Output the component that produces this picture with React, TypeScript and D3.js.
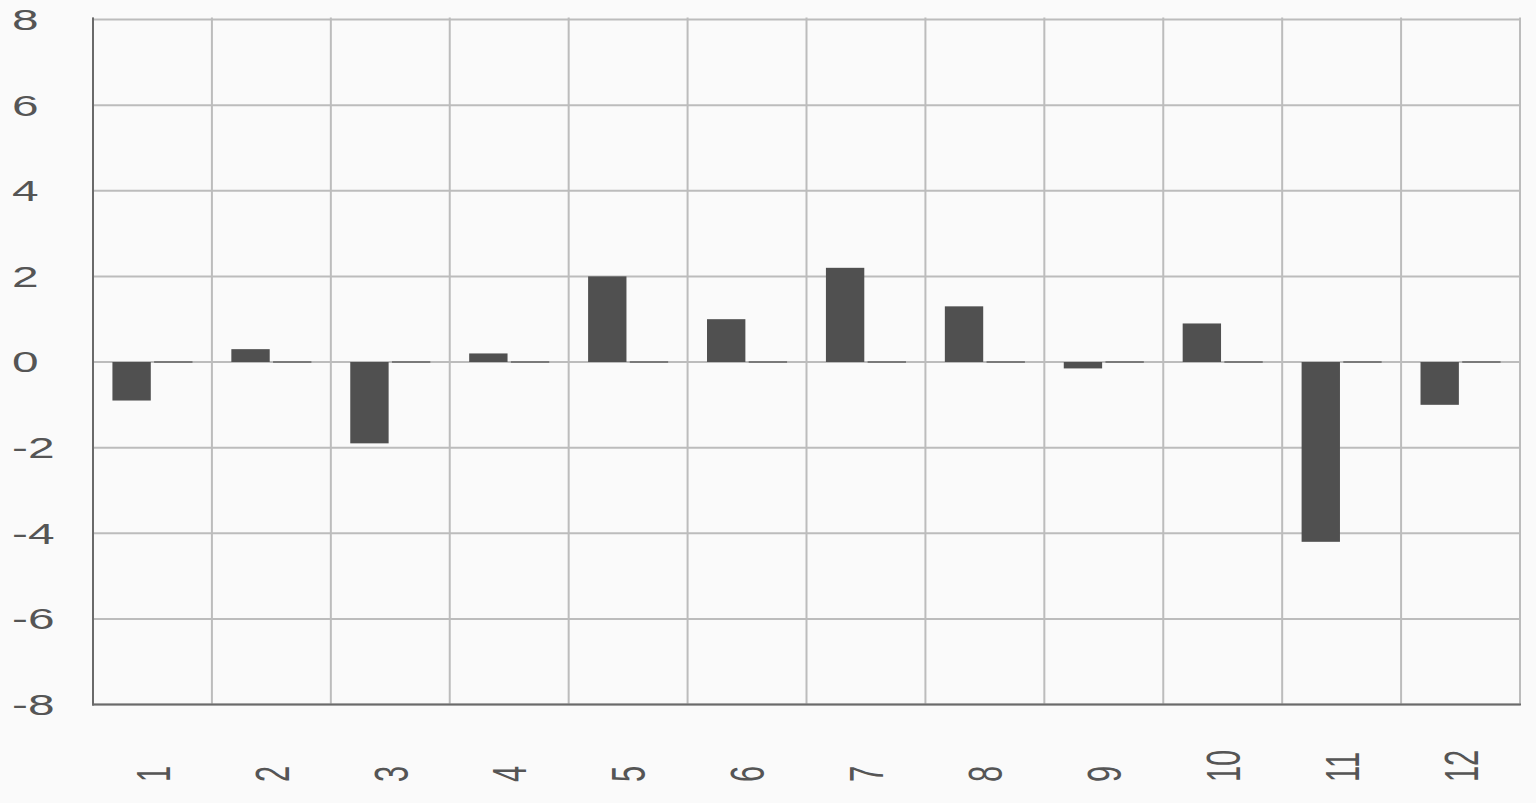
import React from "react";
import * as d3 from "d3";

const categories = ["1", "2", "3", "4", "5", "6", "7", "8", "9", "10", "11", "12"];
const seriesA = [-0.9, 0.3, -1.9, 0.2, 2.0, 1.0, 2.2, 1.3, -0.15, 0.9, -4.2, -1.0];
const seriesB = [0, 0, 0, 0, 0, 0, 0, 0, 0, 0, 0, 0];
const yTicks = [-8, -6, -4, -2, 0, 2, 4, 6, 8];

const W = 1536;
const H = 803;
const left = 93;
const right = 1520;
const top = 19.5;
const bottom = 704.5;
const SX = 1.65;

export default function App() {
  const x0 = d3.scaleBand<string>().domain(categories).range([left, right]).padding(0);
  const x1 = d3
    .scaleBand<string>()
    .domain(["a", "b"])
    .range([0, x0.bandwidth()])
    .paddingInner(0.08)
    .paddingOuter(0.466);
  const y = d3.scaleLinear().domain([-8, 8]).range([bottom, top]);
  const y0 = y(0);

  const boundaries = categories.map((c) => x0(c)!).concat([right]);

  return (
    <svg
      width={W}
      height={H}
      style={{ position: "fixed", left: 0, top: 0, display: "block" }}
      fontFamily="'Liberation Sans', Arial, sans-serif"
    >
      <rect x={0} y={0} width={W} height={H} fill="#fafafa" />
      {/* horizontal grid */}
      {yTicks.map((t) => (
        <line key={"h" + t} x1={left} x2={right} y1={y(t)} y2={y(t)} stroke="#bcbcbc" strokeWidth={2} />
      ))}
      {/* vertical grid */}
      {boundaries.map((bx, i) => (
        <line key={"v" + i} x1={bx} x2={bx} y1={top - 2} y2={bottom} stroke="#bcbcbc" strokeWidth={2} />
      ))}
      {/* bars series A */}
      {categories.map((c, i) => {
        const v = seriesA[i];
        const yv = y(v);
        return (
          <rect
            key={"a" + c}
            x={x0(c)! + x1("a")!}
            y={Math.min(yv, y0)}
            width={x1.bandwidth()}
            height={Math.abs(yv - y0)}
            fill="#505050"
          />
        );
      })}
      {/* series B (zero values) */}
      {categories.map((c, i) => {
        const v = seriesB[i];
        const yv = y(v);
        return (
          <rect
            key={"b" + c}
            x={x0(c)! + x1("b")!}
            y={Math.min(yv, y0) - 1}
            width={x1.bandwidth()}
            height={Math.abs(yv - y0) + 2}
            fill="#7a7a7a"
          />
        );
      })}
      {/* axes */}
      <line x1={left} x2={left} y1={top - 2} y2={bottom + 1} stroke="#6a6a6a" strokeWidth={2} />
      <line x1={left - 1} x2={right + 1} y1={bottom} y2={bottom} stroke="#6a6a6a" strokeWidth={2} />
      {/* y labels */}
      {yTicks.map((t) => (
        <text
          key={"yl" + t}
          transform={`translate(12,${y(t)}) scale(${SX},1)`}
          dy="0.36em"
          fontSize={29}
          fill="#555"
          textAnchor="start"
        >
          {t}
        </text>
      ))}
      {/* x labels */}
      {categories.map((c) => (
        <text
          key={"xl" + c}
          transform={`translate(${x0(c)! + x0.bandwidth() / 2},782) scale(${SX},1) rotate(-90)`}
          dy="0.36em"
          fontSize={29}
          fill="#555"
          textAnchor="start"
        >
          {c}
        </text>
      ))}
    </svg>
  );
}
